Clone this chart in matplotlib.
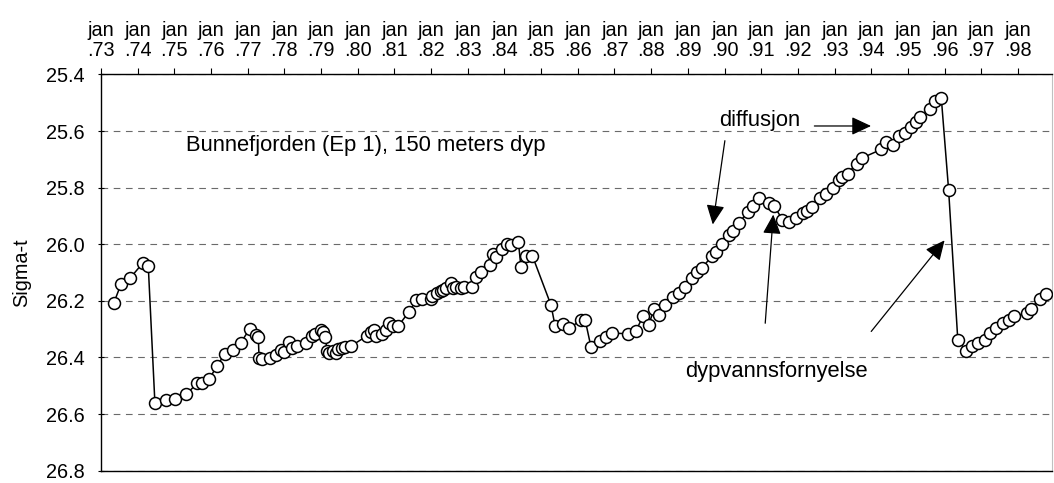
import numpy as np
import matplotlib
matplotlib.use("Agg")
import matplotlib.pyplot as plt

# Sigma-t i Bunnefjorden (Ep 1), 150 m dyp, lest av fra figuren
AAR = [
    1973.35, 1973.55, 1973.79, 1974.15, 1974.29, 1974.47, 1974.76, 1975.02,
    1975.33, 1975.63, 1975.76, 1975.95, 1976.16, 1976.38, 1976.60, 1976.81,
    1977.06, 1977.24, 1977.29, 1977.31, 1977.40, 1977.60, 1977.78, 1977.90,
    1977.99, 1978.13, 1978.22, 1978.35, 1978.58, 1978.75, 1978.84, 1978.99,
    1979.04, 1979.11, 1979.17, 1979.22, 1979.33, 1979.40, 1979.47, 1979.58,
    1979.66, 1979.81, 1980.26, 1980.36, 1980.45, 1980.51, 1980.67, 1980.77,
    1980.86, 1980.95, 1981.11, 1981.40, 1981.60, 1981.75, 1981.99, 1982.02,
    1982.17, 1982.27, 1982.33, 1982.40, 1982.54, 1982.60, 1982.69, 1982.81,
    1982.90, 1983.11, 1983.22, 1983.36, 1983.60, 1983.69, 1983.77, 1983.93,
    1984.08, 1984.18, 1984.38, 1984.45, 1984.58, 1984.76, 1985.27, 1985.38,
    1985.60, 1985.77, 1986.09, 1986.20, 1986.36, 1986.60, 1986.77, 1986.93,
    1987.38, 1987.59, 1987.78, 1987.93, 1988.08, 1988.22, 1988.38, 1988.60,
    1988.77, 1988.93, 1989.11, 1989.24, 1989.39, 1989.66, 1989.77, 1989.93,
    1990.11, 1990.22, 1990.40, 1990.63, 1990.77, 1990.95, 1991.22, 1991.36,
    1991.58, 1991.77, 1991.95, 1992.13, 1992.24, 1992.39, 1992.59, 1992.78,
    1992.95, 1993.11, 1993.20, 1993.36, 1993.60, 1993.75, 1994.27, 1994.39,
    1994.60, 1994.75, 1994.93, 1995.09, 1995.22, 1995.33, 1995.59, 1995.75,
    1995.91, 1996.11, 1996.36, 1996.59, 1996.75, 1996.90, 1997.09, 1997.24,
    1997.41, 1997.59, 1997.75, 1997.90, 1998.24, 1998.36, 1998.59, 1998.77,
]
SIGMA_T = [
    26.207, 26.140, 26.120, 26.065, 26.078, 26.560, 26.550, 26.548,
    26.530, 26.490, 26.490, 26.477, 26.430, 26.387, 26.375, 26.348,
    26.298, 26.319, 26.329, 26.401, 26.406, 26.401, 26.392, 26.374,
    26.381, 26.346, 26.366, 26.360, 26.348, 26.323, 26.316, 26.304,
    26.310, 26.328, 26.377, 26.385, 26.377, 26.383, 26.369, 26.366,
    26.362, 26.360, 26.323, 26.311, 26.304, 26.325, 26.316, 26.302,
    26.279, 26.290, 26.288, 26.238, 26.197, 26.195, 26.192, 26.183,
    26.172, 26.165, 26.160, 26.153, 26.137, 26.153, 26.151, 26.153,
    26.151, 26.151, 26.116, 26.099, 26.072, 26.035, 26.044, 26.017,
    25.998, 26.002, 25.991, 26.081, 26.040, 26.040, 26.215, 26.288,
    26.281, 26.297, 26.267, 26.267, 26.363, 26.343, 26.326, 26.314,
    26.316, 26.305, 26.253, 26.285, 26.230, 26.250, 26.215, 26.186,
    26.172, 26.151, 26.119, 26.099, 26.084, 26.040, 26.029, 26.000,
    25.967, 25.953, 25.924, 25.886, 25.866, 25.837, 25.854, 25.866,
    25.913, 25.921, 25.907, 25.889, 25.881, 25.870, 25.837, 25.823,
    25.800, 25.773, 25.761, 25.750, 25.715, 25.695, 25.665, 25.637,
    25.649, 25.618, 25.607, 25.587, 25.569, 25.552, 25.523, 25.494,
    25.482, 25.808, 26.337, 26.378, 26.358, 26.349, 26.337, 26.314,
    26.297, 26.279, 26.267, 26.253, 26.244, 26.227, 26.192, 26.175,
]

TICK_AAR = list(range(1973, 1999))
TICK_TEKST = [f"jan\n.{a % 100:02d}" for a in TICK_AAR]
Y_TICKS = [25.4, 25.6, 25.8, 26.0, 26.2, 26.4, 26.6, 26.8]

FONT = ["Liberation Sans", "DejaVu Sans"]


def tegn():
    plt.rcParams["font.family"] = FONT
    fig = plt.figure(figsize=(10.54, 4.83), dpi=100)
    ax = fig.add_axes([0.0958, 0.0255, 0.902, 0.8203])

    ax.plot(AAR, SIGMA_T, color="black", lw=1.1, marker="o", ms=8.6,
            mfc="white", mec="black", mew=1.1, zorder=3)

    ax.set_xlim(1973, 1998.92)
    ax.set_ylim(26.8, 25.4)

    # x-akse oppe
    ax.xaxis.tick_top()
    ax.set_xticks(TICK_AAR)
    ax.set_xticklabels(TICK_TEKST, linespacing=1.05)
    ax.tick_params(axis="x", direction="out", length=4.5, width=0.8,
                   labelsize=14.3, pad=6)

    ax.set_yticks(Y_TICKS)
    ax.set_yticklabels([f"{v:.1f}" for v in Y_TICKS])
    ax.tick_params(axis="y", direction="inout", length=5, width=0.8,
                   labelsize=14.3, pad=9)
    ax.set_ylabel("Sigma-t", fontsize=14.3, labelpad=11)

    ax.yaxis.grid(True, color="#6a6a6a", lw=0.8, linestyle=(0, (6, 5)))
    ax.xaxis.grid(False)
    ax.set_axisbelow(True)

    for s in ["top", "left", "bottom"]:
        ax.spines[s].set_color("black")
        ax.spines[s].set_linewidth(1.0)
    ax.spines["right"].set_color("#c0c0c0")
    ax.spines["right"].set_linewidth(0.8)

    # tekster og piler
    ax.text(1975.31, 25.669, "Bunnefjorden (Ep 1), 150 meters dyp",
            fontsize=15.8, va="baseline", ha="left")
    ax.text(1989.86, 25.582, "diffusjon", fontsize=15.8,
            va="baseline", ha="left")
    ax.text(1988.93, 26.470, "dypvannsfornyelse", fontsize=15.8,
            va="baseline", ha="left")

    pil = dict(arrowstyle="-|>,head_length=0.6,head_width=0.28",
               color="black", lw=0.9, mutation_scale=20,
               shrinkA=0, shrinkB=0)
    ax.annotate("", xy=(1989.68, 25.930), xytext=(1990.01, 25.634), arrowprops=pil)
    ax.annotate("", xy=(1993.995, 25.582), xytext=(1992.45, 25.582), arrowprops=pil)
    ax.annotate("", xy=(1991.33, 25.895), xytext=(1991.11, 26.279), arrowprops=pil)
    ax.annotate("", xy=(1996.0, 25.986), xytext=(1994.0, 26.308), arrowprops=pil)

    fig.savefig("out.png", dpi=100)


if __name__ == "__main__":
    tegn()
